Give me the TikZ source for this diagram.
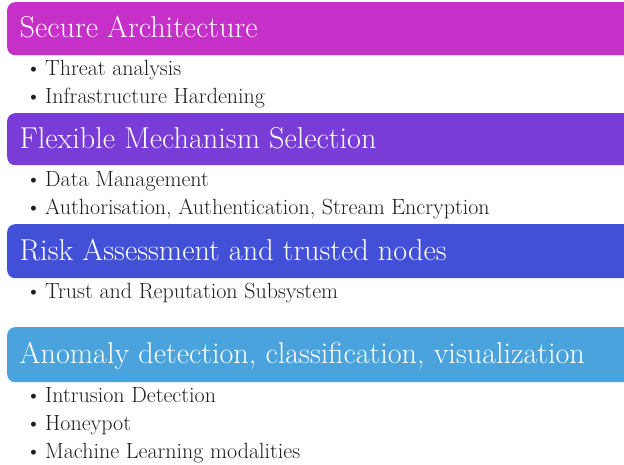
\documentclass[tikz,border=0pt]{standalone}
\usepackage{fontspec}
\usetikzlibrary{positioning}
\definecolor{securemagenta}{RGB}{198,48,200}
\definecolor{flexpurple}{RGB}{122,60,214}
\definecolor{riskblue}{RGB}{65,80,214}
\definecolor{anomalycyan}{RGB}{74,163,220}
\definecolor{itemgray}{RGB}{30,30,30}

\begin{document}
\begin{tikzpicture}[x=1pt, y=-1pt,
    bar/.style={rounded corners=8pt, minimum width=660pt, inner sep=0pt, anchor=north west},
    head/.style={font=\fontsize{30.2}{32}\selectfont, text=white, inner sep=0pt, anchor=base west},
    item/.style={font=\fontsize{22}{26}\selectfont, text=itemgray, inner sep=0pt, anchor=base west}
]
\useasboundingbox (0,0) rectangle (624,464);
\clip (0,0) rectangle (624,464);

% Bars with headings
\foreach \i/\top/\h/\base/\col/\title in {
    1/2/53/37.5/securemagenta/{Secure Architecture},
    2/113/52/148/flexpurple/{Flexible Mechanism Selection},
    3/224/54/260/riskblue/{Risk Assessment and trusted nodes},
    4/327/55/363.5/anomalycyan/{Anomaly detection, classification, visualization}} {
    \node[bar, fill=\col, minimum height=\h pt] (bar\i) at (7, \top) {};
    \node[head] (head\i) at (19.5, \base) {\title};
}

% Bullet items
\foreach \n/\y/\txt in {
    a/75/{Threat analysis},
    b/103/{Infrastructure Hardening},
    c/186/{Data Management},
    d/214/{Authorisation, Authentication, Stream Encryption},
    e/298/{Trust and Reputation Subsystem},
    f/402/{Intrusion Detection},
    g/430/{Honeypot},
    h/458/{Machine Learning modalities}} {
    \node[item] (item\n) at (25.5, \y) {\makebox[19.5pt][l]{\textbullet}\txt};
}

\end{tikzpicture}
\end{document}
